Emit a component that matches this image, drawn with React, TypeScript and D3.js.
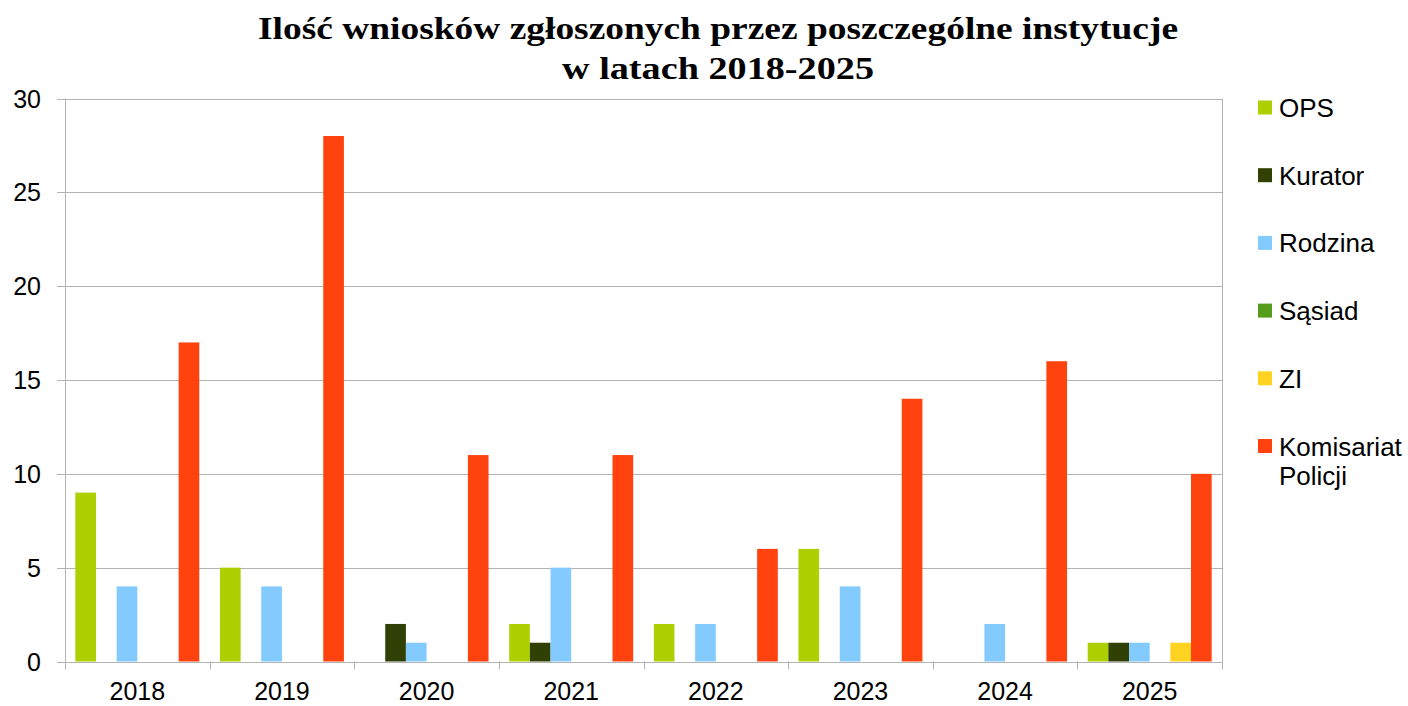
import React from "react";
import * as d3 from "d3";

const years = ["2018", "2019", "2020", "2021", "2022", "2023", "2024", "2025"];
const seriesNames = ["OPS", "Kurator", "Rodzina", "Sąsiad", "ZI", "Komisariat Policji"];
const seriesColors = ["#aecf00", "#314004", "#83caff", "#579d1c", "#ffd320", "#ff420e"];
const ops = [9, 5, 0, 2, 2, 6, 0, 1];
const kurator = [0, 0, 2, 1, 0, 0, 0, 1];
const rodzina = [4, 4, 1, 5, 2, 4, 2, 1];
const sasiad = [0, 0, 0, 0, 0, 0, 0, 0];
const zi = [0, 0, 0, 0, 0, 0, 0, 1];
const komisariat = [17, 28, 11, 11, 6, 14, 16, 10];
const yTicks = [0, 5, 10, 15, 20, 25, 30];
const titleLines = ["Ilość wniosków zgłoszonych przez poszczególne instytucje", "w latach 2018-2025"];

const allSeries = [ops, kurator, rodzina, sasiad, zi, komisariat];

export default function App() {
  const W = 1408, H = 706;
  const left = 65, right = 1222, top = 98.5, bottom = 661.5;
  const x0 = d3.scaleBand().domain(years).range([left, right]).paddingInner(0).paddingOuter(0);
  const groupW = x0.bandwidth();
  const barW = groupW / 7;
  const x1 = d3.scaleBand().domain(seriesNames).range([barW / 2, groupW - barW / 2]).padding(0);
  const y = d3.scaleLinear().domain([0, 30]).range([bottom, top]);
  const grid = "#b3b3b3";
  const sans = "'Liberation Sans', Arial, sans-serif";
  const legendStart = 107.5, legendStep = 67.7;
  const titleLen = [920, 312];
  const titleBase = [38.5, 79.3];

  return (
    <svg width={W} height={H} style={{ position: "absolute", left: 0, top: 0, background: "#fff" }}>
      <rect x={0} y={0} width={W} height={H} fill="#fff" />
      {titleLines.map((t, i) => (
        <text key={i} x={718} y={titleBase[i]} textAnchor="middle"
          fontFamily="'Liberation Serif', 'Times New Roman', serif" fontWeight="bold" fontSize={31}
          textLength={titleLen[i]} lengthAdjust="spacingAndGlyphs"
          fill="#000">{t}</text>
      ))}
      {yTicks.map((t) => (
        <g key={t}>
          <line x1={left - 8} x2={right} y1={Math.round(y(t)) + 0.5} y2={Math.round(y(t)) + 0.5} stroke={grid} strokeWidth={1} />
          <text x={41} y={y(t) + 9} textAnchor="end" fontFamily={sans} fontSize={25} fill="#000">{t}</text>
        </g>
      ))}
      <line x1={left + 0.5} x2={left + 0.5} y1={top} y2={bottom} stroke={grid} />
      <line x1={right + 0.5} x2={right + 0.5} y1={top} y2={bottom + 8} stroke={grid} />
      {years.map((yr, i) => (
        <g key={yr}>
          <line x1={Math.round(x0(yr)!) + 0.5} x2={Math.round(x0(yr)!) + 0.5} y1={bottom} y2={bottom + 8} stroke={grid} />
          <text x={x0(yr)! + groupW / 2} y={700} textAnchor="middle" fontFamily={sans} fontSize={25} fill="#000">{yr}</text>
          {allSeries.map((s, j) => s[i] > 0 ? (
            <rect key={j} x={x0(yr)! + x1(seriesNames[j])!} y={y(s[i])} width={barW} height={y(0) - y(s[i])} fill={seriesColors[j]} />
          ) : null)}
        </g>
      ))}
      {seriesNames.map((n, j) => {
        const parts = n === "Komisariat Policji" ? ["Komisariat", "Policji"] : [n];
        const cy = legendStart + j * legendStep;
        return (
          <g key={n}>
            <rect x={1258} y={cy - 7} width={14} height={14} fill={seriesColors[j]} />
            {parts.map((p, k) => (
              <text key={k} x={1279} y={cy + 9.5 + k * 29} fontFamily={sans} fontSize={26} fill="#000">{p}</text>
            ))}
          </g>
        );
      })}
    </svg>
  );
}
